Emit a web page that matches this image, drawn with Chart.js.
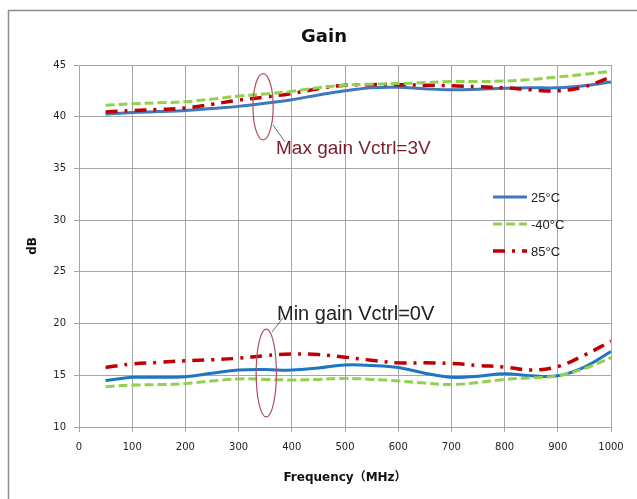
<!DOCTYPE html>
<html>
<head>
<meta charset="utf-8">
<script src="https://cdn.jsdelivr.net/npm/chart.js@4.4.1/dist/chart.umd.min.js"></script>
<style>
  html, body { margin: 0; padding: 0; background: #fff; }
  #wrap { width: 637px; height: 499px; }
</style>
</head>
<body>
<div id="wrap"><canvas id="gain-chart" width="637" height="499"></canvas></div>
<script>
const freqs = [50, 100, 150, 200, 250, 300, 350, 400, 450, 500, 550, 600, 650, 700, 750, 800, 850, 900, 950, 1000];

// Max gain, Vctrl=3V
const max25 = [40.25, 40.4, 40.5, 40.6, 40.8, 41.0, 41.3, 41.65, 42.1, 42.5, 42.8, 42.85, 42.7, 42.6, 42.65, 42.75, 42.8, 42.8, 43.0, 43.35];
const maxM40 = [41.1, 41.25, 41.35, 41.45, 41.7, 42.0, 42.2, 42.45, 42.8, 43.05, 43.15, 43.2, 43.3, 43.4, 43.4, 43.45, 43.6, 43.85, 44.1, 44.4];
const max85 = [40.45, 40.6, 40.7, 40.85, 41.2, 41.6, 41.9, 42.25, 42.7, 43.05, 43.1, 43.1, 43.05, 43.0, 42.9, 42.8, 42.6, 42.5, 42.9, 43.85];

// Min gain, Vctrl=0V
const min25 = [14.5, 14.8, 14.8, 14.87, 15.2, 15.5, 15.55, 15.5, 15.7, 16.0, 15.95, 15.75, 15.2, 14.8, 14.9, 15.15, 14.95, 14.95, 15.8, 17.3];
const minM40 = [13.9, 14.05, 14.1, 14.2, 14.45, 14.65, 14.6, 14.55, 14.6, 14.7, 14.6, 14.45, 14.25, 14.1, 14.3, 14.6, 14.75, 14.95, 15.65, 16.7];
const min85 = [15.75, 16.1, 16.25, 16.4, 16.5, 16.65, 16.9, 17.05, 17.0, 16.75, 16.45, 16.2, 16.2, 16.15, 15.95, 15.8, 15.5, 15.85, 16.95, 18.3];

const seriesNames = ['25°C', '-40°C', '85°C'];
const xTicks = [0, 100, 200, 300, 400, 500, 600, 700, 800, 900, 1000];
const yTicks = [10, 15, 20, 25, 30, 35, 40, 45];

const styles = [
    { color: '#3f78bf', dash: [], width: 3 },
    { color: '#92d050', dash: [9, 4], width: 3 },
    { color: '#c00000', dash: [12, 7, 3, 7], width: 3.5 }
];

const toPoints = (vals) => vals.map((v, i) => ({ x: freqs[i], y: v }));

const makeSet = (vals, s, name) => ({
    label: name,
    data: toPoints(vals),
    borderColor: s.color,
    borderDash: s.dash,
    borderWidth: s.width,
    pointRadius: 0,
    tension: 0.4,
    fill: false
});

// annotation ellipses, in data units
const notes = [
    { cx: 346, cy: 40.97, rx: 19, ry: 3.2, text: 'Max gain Vctrl=3V', font: '19px "Liberation Sans"', color: '#7b1c2c', lineFrom: [273, 125], lineTo: [285, 142], tx: 276, ty: 149 },
    { cx: 352, cy: 15.22, rx: 19, ry: 4.25, text: 'Min gain Vctrl=0V', font: '20px "Liberation Sans"', color: '#222222', lineFrom: [272, 332], lineTo: [283, 318], tx: 277, ty: 314 }
];

const decor = {
    id: 'decor',
    beforeDraw(chart) {
        const ctx = chart.ctx;
        ctx.save();
        ctx.fillStyle = '#fff';
        ctx.fillRect(0, 0, chart.width, chart.height);
        ctx.strokeStyle = '#8c8c8c';
        ctx.lineWidth = 1.5;
        ctx.beginPath();
        ctx.moveTo(8.5, 499);
        ctx.lineTo(8.5, 10.5);
        ctx.lineTo(637, 10.5);
        ctx.stroke();
        // title
        ctx.fillStyle = '#111';
        ctx.font = 'bold 18px "DejaVu Sans"';
        ctx.textAlign = 'center';
        ctx.textBaseline = 'middle';
        ctx.fillText('Gain', 324, 37);
        ctx.restore();
    },
    afterDraw(chart) {
        const ctx = chart.ctx;
        const xs = chart.scales.x, ys = chart.scales.y;
        ctx.save();
        notes.forEach(n => {
            const cx = xs.getPixelForValue(n.cx), cy = ys.getPixelForValue(n.cy);
            const rx = xs.getPixelForValue(n.cx + n.rx) - cx;
            const ry = cy - ys.getPixelForValue(n.cy + n.ry);
            ctx.strokeStyle = '#b0505e';
            ctx.lineWidth = 1.2;
            ctx.setLineDash([]);
            ctx.beginPath();
            ctx.ellipse(cx, cy, rx, ry, 0, 0, Math.PI * 2);
            ctx.stroke();
            ctx.strokeStyle = '#444';
            ctx.lineWidth = 0.8;
            ctx.beginPath();
            ctx.moveTo(n.lineFrom[0], n.lineFrom[1]);
            ctx.lineTo(n.lineTo[0], n.lineTo[1]);
            ctx.stroke();
            ctx.fillStyle = n.color;
            ctx.font = n.font;
            ctx.textAlign = 'left';
            ctx.textBaseline = 'middle';
            ctx.fillText(n.text, n.tx, n.ty);
        });

        // legend inside the plot
        const rows = [197, 224, 251];
        seriesNames.forEach((name, i) => {
            const s = styles[i];
            ctx.strokeStyle = s.color;
            ctx.lineWidth = s.width;
            ctx.setLineDash(s.dash);
            ctx.beginPath();
            ctx.moveTo(493, rows[i]);
            ctx.lineTo(527, rows[i]);
            ctx.stroke();
            ctx.setLineDash([]);
            ctx.fillStyle = '#222';
            ctx.font = '13px "Liberation Sans"';
            ctx.textAlign = 'left';
            ctx.textBaseline = 'middle';
            ctx.fillText(name, 531, rows[i] + 1);
        });
        ctx.restore();
    }
};

new Chart(document.getElementById('gain-chart'), {
    type: 'line',
    data: {
        datasets: [
            makeSet(maxM40, styles[1], seriesNames[1]),
            makeSet(max85, styles[2], seriesNames[2]),
            makeSet(max25, styles[0], seriesNames[0]),
            makeSet(minM40, styles[1], seriesNames[1]),
            makeSet(min85, styles[2], seriesNames[2]),
            makeSet(min25, { ...styles[0], color: '#1f74c4' }, seriesNames[0])
        ]
    },
    options: {
        responsive: false,
        animation: false,
        layout: { padding: { top: 65, right: 26, bottom: 0, left: 0 } },
        plugins: {
            legend: { display: false },
            tooltip: { enabled: false },
            title: { display: false }
        },
        scales: {
            x: {
                type: 'linear',
                min: 0, max: 1000,
                afterBuildTicks: (s) => { s.ticks = xTicks.map(v => ({ value: v })); },
                afterFit: (s) => { s.height = 72; },
                grid: { color: '#a6a6a6', tickLength: 5 },
                border: { color: '#a6a6a6' },
                ticks: { color: '#222', padding: 9, font: { family: 'DejaVu Sans', size: 10 }, maxRotation: 0, callback: (v) => String(v) },
                title: {
                    display: true,
                    text: 'Frequency（MHz）',
                    color: '#111',
                    font: { family: '"DejaVu Sans", "Noto Sans CJK SC"', size: 12, weight: 'bold' },
                    padding: { top: 0, bottom: 14 }
                }
            },
            y: {
                min: 10, max: 45,
                afterBuildTicks: (s) => { s.ticks = yTicks.map(v => ({ value: v })); },
                afterFit: (s) => { s.width = 79; },
                grid: { color: '#a6a6a6', tickLength: 5 },
                border: { color: '#a6a6a6' },
                ticks: { color: '#222', padding: 8, font: { family: 'DejaVu Sans', size: 10 }, callback: (v) => String(v) },
                title: {
                    display: true,
                    text: 'dB',
                    color: '#111',
                    font: { family: 'DejaVu Sans', size: 12, weight: 'bold' },
                    padding: { top: 26, bottom: 0 }
                }
            }
        }
    },
    plugins: [decor]
});
</script>
</body>
</html>
